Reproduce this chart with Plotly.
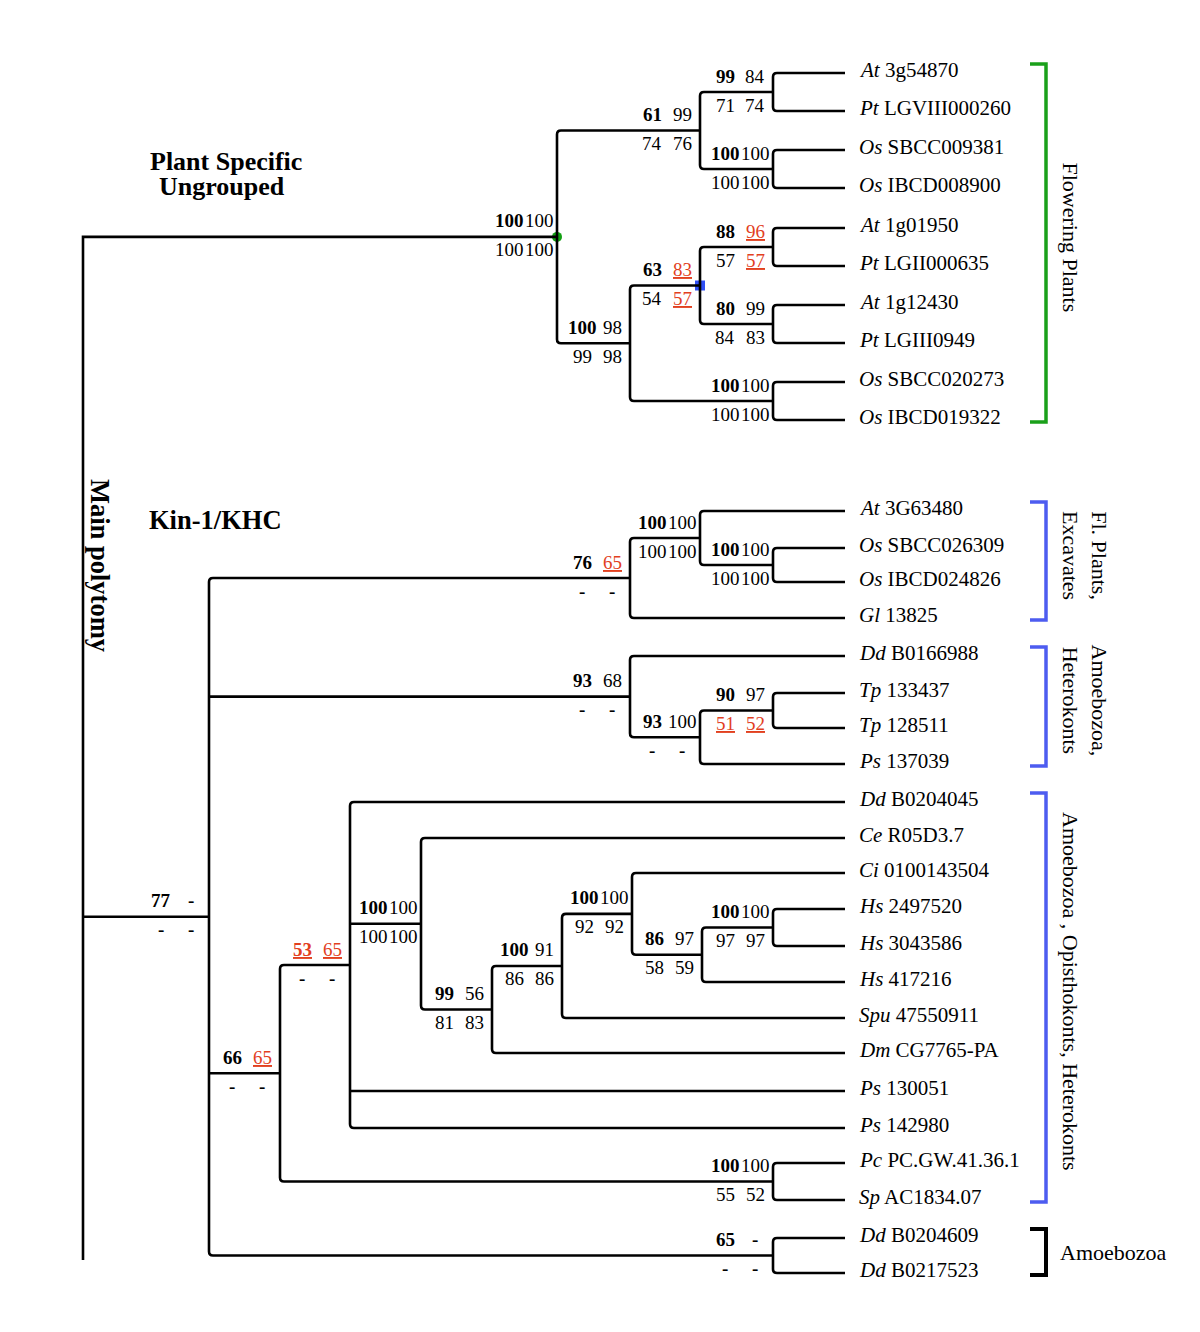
import plotly.graph_objects as go

# ---- leaves (top to bottom) ----
leaf_genus = ['At', 'Pt', 'Os', 'Os', 'At', 'Pt', 'At', 'Pt', 'Os', 'Os',
              'At', 'Os', 'Os', 'Gl', 'Dd', 'Tp', 'Tp', 'Ps',
              'Dd', 'Ce', 'Ci', 'Hs', 'Hs', 'Hs', 'Spu', 'Dm', 'Ps', 'Ps',
              'Pc', 'Sp', 'Dd', 'Dd']
leaf_id = ['3g54870', 'LGVIII000260', 'SBCC009381', 'IBCD008900', '1g01950',
           'LGII000635', '1g12430', 'LGIII0949', 'SBCC020273', 'IBCD019322',
           '3G63480', 'SBCC026309', 'IBCD024826', '13825', 'B0166988',
           '133437', '128511', '137039',
           'B0204045', 'R05D3.7', '0100143504', '2497520', '3043586', '417216',
           '47550911', 'CG7765-PA', '130051', '142980',
           'PC.GW.41.36.1', 'AC1834.07', 'B0204609', 'B0217523']
leaf_y = [73, 111, 150, 188, 228, 266, 305, 343, 382, 420,
          511, 548, 582, 618, 656, 693, 728, 764,
          802, 838, 873, 909, 946, 982, 1018, 1053, 1091, 1128,
          1163, 1200, 1238, 1273]

# ---- internal nodes: name, depth (x), children (int = leaf index) ----
node_name = ['n1', 'n2', 'nA', 'n3', 'n4', 'nB', 'n5', 'nC', 'nD',
             'nG', 'nF', 'nE', 'nJ', 'nI', 'nH',
             'nR', 'nQ', 'nP', 'nO', 'nN', 'nM', 'nL', 'nS', 'nK', 'nT',
             'kin', 'root']
node_x = [773, 773, 700, 773, 773, 700, 773, 630, 557,
          773, 700, 630, 773, 700, 630,
          773, 702, 632, 562, 492, 421, 350, 773, 280, 773,
          209, 83]
node_kids = [[0, 1], [2, 3], ['n1', 'n2'], [4, 5], [6, 7], ['n3', 'n4'],
             [8, 9], ['nB', 'n5'], ['nA', 'nC'],
             [11, 12], [10, 'nG'], ['nF', 13], [15, 16], ['nJ', 17], [14, 'nI'],
             [21, 22], ['nR', 23], [20, 'nQ'], ['nP', 24], ['nO', 25],
             [19, 'nN'], [18, 'nM', 26, 27], [28, 29], ['nL', 'nS'], [30, 31],
             ['nE', 'nH', 'nK', 'nT'], ['nD', 'kin']]
# support values: "top1 top2 / bot1 bot2"; '*' = red, underlined
node_support = ['99 84/71 74', '100 100/100 100', '61 99/74 76',
                '88 96*/57 57*', '80 99/84 83', '63 83*/54 57*',
                '100 100/100 100', '100 98/99 98', '100 100/100 100',
                '100 100/100 100', '100 100/100 100', '76 65*/- -',
                '90 97/51* 52*', '93 100/- -', '93 68/- -',
                '100 100/97 97', '86 97/58 59', '100 100/92 92',
                '100 91/86 86', '99 56/81 83', '100 100/100 100',
                '53* 65*/- -', '100 100/55 52', '66 65*/- -', '65 -/- -',
                '77 -/- -', '']

# ---- clade brackets on the right ----
group_label = ['Flowering Plants', 'Fl. Plants,<br>Excavates',
               'Amoebozoa,<br>Heterokonts',
               'Amoebozoa , Opisthokonts, Heterokonts', 'Amoebozoa']
group_first = [0, 10, 14, 18, 30]
group_last = [9, 13, 17, 29, 31]
group_color = ['#1aa01a', '#4d5cf0', '#4d5cf0', '#4d5cf0', '#000000']

LEAF_END = 845
ROOT_BOTTOM = 1260
RED = '#e2401e'
FONT = 'Liberation Serif'

idx = {n: i for i, n in enumerate(node_name)}
ny = {}


def kid_y(k):
    if isinstance(k, int):
        return leaf_y[k]
    return node_y(k)


def kid_x(k):
    return LEAF_END if isinstance(k, int) else node_x[idx[k]]


def node_y(n):
    if n not in ny:
        ks = node_kids[idx[n]]
        ny[n] = (kid_y(ks[0]) + kid_y(ks[-1])) / 2
    return ny[n]


shapes = []
line = dict(color='black', width=2.6)
r = 4
for n in node_name:
    i = idx[n]
    x = node_x[i]
    ks = node_kids[i]
    y0, y1 = kid_y(ks[0]), kid_y(ks[-1])
    if n == 'root':
        p = f'M {kid_x(ks[0])},{y0} H {x} V {ROOT_BOTTOM}'
    else:
        p = (f'M {kid_x(ks[0])},{y0} H {x + r} Q {x},{y0} {x},{y0 + r} '
             f'V {y1 - r} Q {x},{y1} {x + r},{y1} H {kid_x(ks[-1])}')
    shapes.append(dict(type='path', path=p, line=line, xref='x', yref='y'))
    for k in ks[1:-1] if n != 'root' else ks[1:]:
        shapes.append(dict(type='path', path=f'M {x},{kid_y(k)} H {kid_x(k)}',
                           line=line, xref='x', yref='y'))

annotations = []


def add_text(x, y, s, size, **kw):
    d = dict(x=x, y=y, text=s, showarrow=False, xref='x', yref='y',
             font=dict(family=FONT, size=size, color=kw.pop('color', 'black')))
    d.update(kw)
    annotations.append(d)


# support values
for n, sup in zip(node_name, node_support):
    if not sup:
        continue
    x, y = node_x[idx[n]], node_y(n)
    top, bot = sup.split('/')
    for row, dy in ((top, -16), (bot, 13)):
        for j, v in enumerate(row.split()):
            red = v.endswith('*')
            v = v.rstrip('*')
            bold = (row is top and j == 0) or v == '-'
            s = f'<b>{v}</b>' if bold else v
            if red:
                s = f'<u>{s}</u>'
            add_text(x - 48 + 30 * j, y + dy, s, 19,
                     color=RED if red else 'black', xanchor='center',
                     yanchor='middle')

# leaf labels
for g, lid, y in zip(leaf_genus, leaf_id, leaf_y):
    add_text(LEAF_END + 12, y - 3, f'<i>{g}</i> {lid}', 21,
             xanchor='left', yanchor='middle')

# clade brackets
for lab, a, b, c in zip(group_label, group_first, group_last, group_color):
    top, bot = leaf_y[a] - 9, leaf_y[b] + 2
    w = 4 if c == '#000000' else 3.5
    shapes.append(dict(type='path', xref='x', yref='y',
                       path=f'M 1030,{top} H 1046 V {bot} H 1030',
                       line=dict(color=c, width=w)))
    if lab == 'Amoebozoa':
        add_text(1058, (top + bot) / 2, lab, 22, xanchor='left',
                 yanchor='middle')
    else:
        add_text(1056, (top + bot) / 2 - 6, lab, 22, xanchor='left',
                 yanchor='middle', textangle=90)

# clade titles
add_text(226, 161, '<b>Plant Specific</b>', 26, xanchor='center', yanchor='middle')
add_text(222, 186, '<b>Ungrouped</b>', 26, xanchor='center', yanchor='middle')
add_text(147, 520, '<b>Kin-1/KHC</b>', 26.5, xanchor='left', yanchor='middle')
add_text(100, 565, '<b>Main polytomy</b>', 26.5, xanchor='center',
         yanchor='middle', textangle=90)

fig = go.Figure()
# node markers
fig.add_trace(go.Scatter(x=[node_x[idx['nD']]], y=[node_y('nD')], mode='markers',
                         marker=dict(color='#12a012', size=10, symbol='circle'),
                         showlegend=False, hoverinfo='skip'))
fig.add_trace(go.Scatter(x=[node_x[idx['nB']]], y=[node_y('nB')], mode='markers',
                         marker=dict(color='#2f4ff5', size=10, symbol='square'),
                         showlegend=False, hoverinfo='skip'))

fig.update_layout(
    width=1200, height=1332, autosize=False,
    margin=dict(l=0, r=0, t=0, b=0),
    paper_bgcolor='white', plot_bgcolor='white',
    shapes=shapes, annotations=annotations,
    xaxis=dict(range=[0, 1200], visible=False, fixedrange=True),
    yaxis=dict(range=[1332, 0], visible=False, fixedrange=True),
    showlegend=False,
)
fig.write_html("out.html", config={'displayModeBar': False},
               post_script="document.body.style.margin='0';")
